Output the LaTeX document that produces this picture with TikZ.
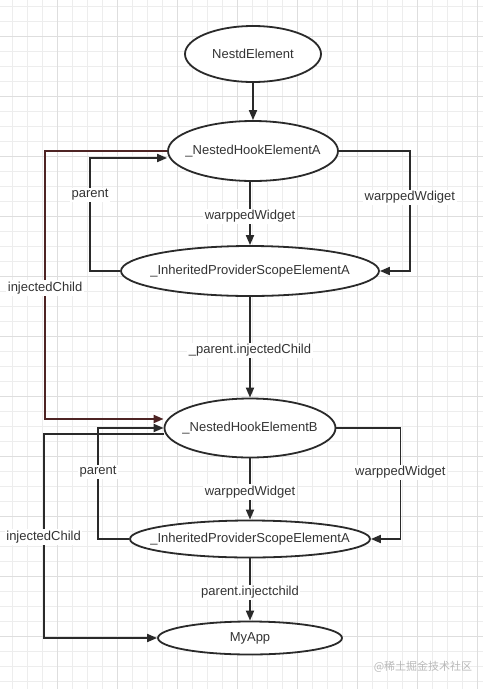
\documentclass[tikz,border=0pt]{standalone}
\usepackage{fontspec}
\setmainfont{Liberation Sans}
\newfontfamily\cjkfont{Noto Sans CJK SC}
\usetikzlibrary{positioning, arrows.meta, shapes.geometric}

\definecolor{linegray}{HTML}{2A2A2A}
\definecolor{textgray}{HTML}{333333}
\definecolor{gridminor}{HTML}{EDEDED}
\definecolor{gridmajor}{HTML}{DEDEDE}
\definecolor{injred}{HTML}{4E2424}

% keep the ellipse size independent of its text
\newcommand{\elemtext}[1]{\makebox[0pt]{#1}}

\begin{document}
\begin{tikzpicture}[x=1pt, y=-1pt,
  elem/.style={draw=linegray, ellipse, line width=1.8pt, fill=white,
    inner sep=0pt, text=textgray, font=\fontsize{13}{15}\selectfont},
  arrow/.style={-{Triangle[length=10pt,width=8pt]}, line width=1.8pt, draw=linegray},
  lbl/.style={fill=white, inner sep=1.5pt, yshift=-3pt, text=textgray,
    font=\fontsize{13}{15}\selectfont}
]

% Canvas and grid
\useasboundingbox (0,0) rectangle (483,689);
\fill[white] (0,0) rectangle (483,689);
\foreach \gx in {12.5,27.5,...,482} \draw[gridminor, line width=0.8pt] (\gx,0) -- (\gx,689);
\foreach \gy in {6.5,21.5,...,688} \draw[gridminor, line width=0.8pt] (0,\gy) -- (483,\gy);
\foreach \gx in {57.5,117.5,...,482} \draw[gridmajor, line width=0.9pt] (\gx,0) -- (\gx,689);
\foreach \gy in {36.5,96.5,...,688} \draw[gridmajor, line width=0.9pt] (0,\gy) -- (483,\gy);

% Elements
\node[elem, minimum width=136, minimum height=56] (nested) at (253,54) {\elemtext{NestdElement}};
\node[elem, minimum width=170, minimum height=60] (hookA) at (253,151) {\elemtext{\_NestedHookElementA}};
\node[elem, minimum width=258, minimum height=50] (scopeA) at (250,271) {\elemtext{\_InheritedProviderScopeElementA}};
\node[elem, minimum width=171, minimum height=59] (hookB) at (250,428) {\elemtext{\_NestedHookElementB}};
\node[elem, minimum width=240, minimum height=37] (scopeB) at (250,539) {\elemtext{\_InheritedProviderScopeElementA}};
\node[elem, minimum width=184, minimum height=33] (myapp) at (250,638) {\elemtext{MyApp}};

% First hook element
\draw[arrow] (nested) -- (hookA);
\draw[arrow] (scopeA.north |- hookA.south) -- node[lbl] {warppedWidget} (scopeA.north);
\draw[arrow] (hookA.east) -- ++(71,0) |- node[lbl, pos=0.18] {warppedWdiget} (scopeA.east);
\draw[arrow] (scopeA.west) -- ++(-30,0) |- node[lbl, pos=0.35] {parent} ([yshift=-7pt]hookA.west);
\draw[arrow, draw=injred] (hookA.west) -- ++(-122,0) |- node[lbl, pos=0.25] {injectedChild} ([yshift=9pt]hookB.west);

% Link between the two
\draw[arrow] (scopeA) -- node[lbl] {\_parent.injectedChild} (hookB);

% Second hook element
\draw[arrow] (hookB) -- node[lbl] {warppedWidget} (scopeB);
\draw[arrow] (hookB.east) -- ++(64,0) |- node[lbl, pos=0.185] {warppedWidget} (scopeB.east);
\draw[arrow] (scopeB.west) -- ++(-31,0) |- node[lbl, pos=0.315] {parent} (hookB.west);
\draw[arrow] ([yshift=-6pt]hookB.west) -- ++(-120,0) |- node[lbl, pos=0.245] {injectedChild} (myapp.west);
\draw[arrow] (scopeB) -- node[lbl] {parent.injectchild} (myapp);

% Watermark
\node[text=gray!55, font=\cjkfont\fontsize{11}{13}\selectfont] (mark) at (423,667) {@稀土掘金技术社区};

\end{tikzpicture}
\end{document}
